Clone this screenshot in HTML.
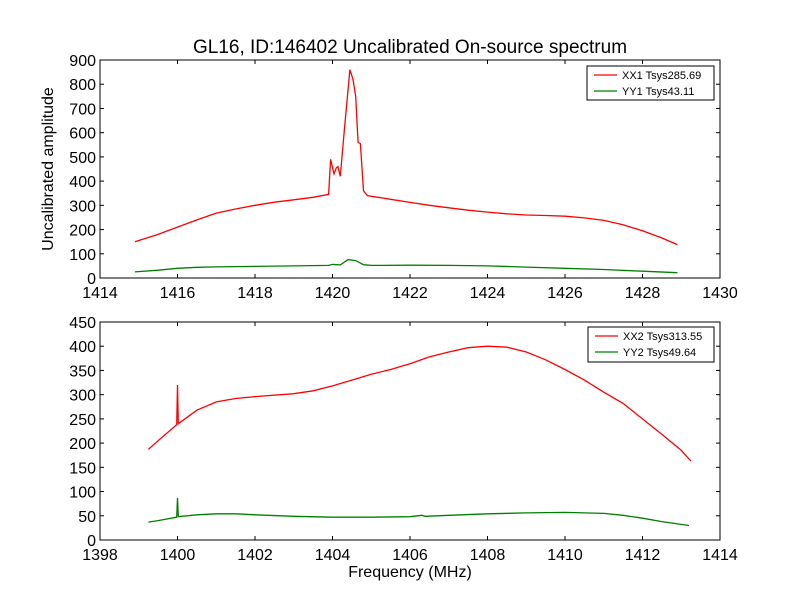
<!DOCTYPE html>
<html><head><meta charset="utf-8"><style>
body{margin:0;background:#fff;}
svg{font-family:"Liberation Sans","DejaVu Sans",sans-serif;}
</style></head><body>
<svg id="chart" width="800" height="600" viewBox="0 0 800 600"></svg>
<script>
const topXX = [[1414.9,150],[1415.5,180],[1416,210],[1416.5,240],[1417,268],[1417.5,285],[1418,300],[1418.5,313],[1419,323],[1419.5,333],[1419.9,345],[1419.95,490],[1420.04,430],[1420.1,455],[1420.14,460],[1420.2,420],[1420.3,600],[1420.45,860],[1420.53,820],[1420.6,750],[1420.64,620],[1420.66,560],[1420.72,555],[1420.8,360],[1420.9,340],[1421.5,325],[1422,312],[1422.5,300],[1423,290],[1423.5,280],[1424,272],[1424.5,265],[1425,260],[1425.5,258],[1426,255],[1426.5,248],[1427,238],[1427.5,220],[1428,195],[1428.5,165],[1428.9,138]];
const topYY = [[1414.9,25],[1415.5,32],[1416,40],[1416.5,44],[1417,46],[1418,48],[1419,50],[1419.9,52],[1420,56],[1420.2,54],[1420.4,76],[1420.6,72],[1420.8,55],[1421,52],[1422,53],[1423,52],[1424,50],[1425,45],[1426,40],[1427,35],[1428,28],[1428.9,22]];
const botXX = [[1399.25,187],[1399.5,205],[1399.98,238],[1400,320],[1400.02,240],[1400.5,268],[1401,285],[1401.5,292],[1402,296],[1403,302],[1403.5,308],[1404,318],[1404.5,330],[1405,342],[1405.5,352],[1406,364],[1406.5,378],[1407,388],[1407.5,397],[1408,400],[1408.5,398],[1409,388],[1409.5,372],[1410,352],[1410.5,330],[1411,305],[1411.5,282],[1412,250],[1412.5,218],[1413,185],[1413.25,163]];
const botYY = [[1399.25,37],[1399.5,40],[1399.98,47],[1400,87],[1400.02,48],[1400.5,52],[1401,54],[1401.5,54],[1402,52],[1403,49],[1404,47],[1405,47],[1406,48],[1406.3,51],[1406.4,49],[1407,51],[1408,54],[1409,56],[1410,57],[1411,55],[1411.5,51],[1412,45],[1412.5,38],[1413.2,30]];
const topXTicks = [1414,1416,1418,1420,1422,1424,1426,1428,1430];
const topYTicks = [0,100,200,300,400,500,600,700,800,900];
const botXTicks = [1398,1400,1402,1404,1406,1408,1410,1412,1414];
const botYTicks = [0,50,100,150,200,250,300,350,400,450];
const topLegend = ["XX1 Tsys285.69","YY1 Tsys43.11"];
const botLegend = ["XX2 Tsys313.55","YY2 Tsys49.64"];

const svg = document.getElementById('chart');
const NS = 'http://www.w3.org/2000/svg';
function mk(tag, attrs, parent){const e=document.createElementNS(NS,tag);for(const k in attrs)e.setAttribute(k,attrs[k]);(parent||svg).appendChild(e);return e;}

function panel(name, top, bottom, xmin, xmax, ymax, xt, yt, s1, s2, leg, legBox){
  const L=100,R=720;
  const sx=v=>L+(v-xmin)/(xmax-xmin)*(R-L);
  const sy=v=>bottom-v/ymax*(bottom-top);
  const g=mk('g',{});
  
  
  [[s1,'#ff0000','xx-series'],[s2,'#008000','yy-series']].forEach(([s,c,n])=>{
    const p=mk('polyline',{points:s.map(d=>sx(d[0]).toFixed(1)+','+sy(d[1]).toFixed(1)).join(' '),fill:'none',stroke:c,'stroke-width':1.3},g);
    
    
  });
  const fr=mk('rect',{x:L,y:top,width:R-L,height:bottom-top,fill:'none',stroke:'#000','stroke-width':1},g);
  
  
  xt.forEach(v=>{const x=sx(v);
    mk('line',{x1:x,x2:x,y1:bottom,y2:bottom-4,stroke:'#000'},g);
    mk('line',{x1:x,x2:x,y1:top,y2:top+4,stroke:'#000'},g);
    const t=mk('text',{x:x,y:bottom+20,'text-anchor':'middle','font-size':16},g);t.textContent=v;
    
    
  });
  yt.forEach(v=>{const y=sy(v);
    mk('line',{x1:L,x2:L+4,y1:y,y2:y,stroke:'#000'},g);
    mk('line',{x1:R,x2:R-4,y1:y,y2:y,stroke:'#000'},g);
    const t=mk('text',{x:L-4,y:y+6,'text-anchor':'end','font-size':16},g);t.textContent=v;
    
    
  });
  const lg=mk('g',{},g);
  
  
  mk('rect',{x:legBox[0],y:legBox[1],width:legBox[2],height:legBox[3],fill:'#fff',stroke:'#000'},lg);
  leg.forEach((txt,i)=>{const y=legBox[1]+9+i*16;
    mk('line',{x1:legBox[0]+7,x2:legBox[0]+30,y1:y,y2:y,stroke:i?'#008000':'#ff0000','stroke-width':1.3},lg);
    const t=mk('text',{x:legBox[0]+35,y:y+4,'font-size':11},lg);t.textContent=txt;
    
    
  });
}
panel('top-panel',60,278,1414,1430,900,topXTicks,topYTicks,topXX,topYY,topLegend,[587,66,127,34]);
panel('bottom-panel',322,540,1398,1414,450,botXTicks,botYTicks,botXX,botYY,botLegend,[588,327,126,35]);

const title=mk('text',{x:410,y:53,'text-anchor':'middle','font-size':19});
title.textContent='GL16, ID:146402 Uncalibrated On-source spectrum';


const yl=mk('text',{x:0,y:0,'text-anchor':'middle','font-size':16,transform:'translate(53,169) rotate(-90)'});
yl.textContent='Uncalibrated amplitude';


const xl=mk('text',{x:410,y:577,'text-anchor':'middle','font-size':16});
xl.textContent='Frequency (MHz)';


</script>
</body></html>
